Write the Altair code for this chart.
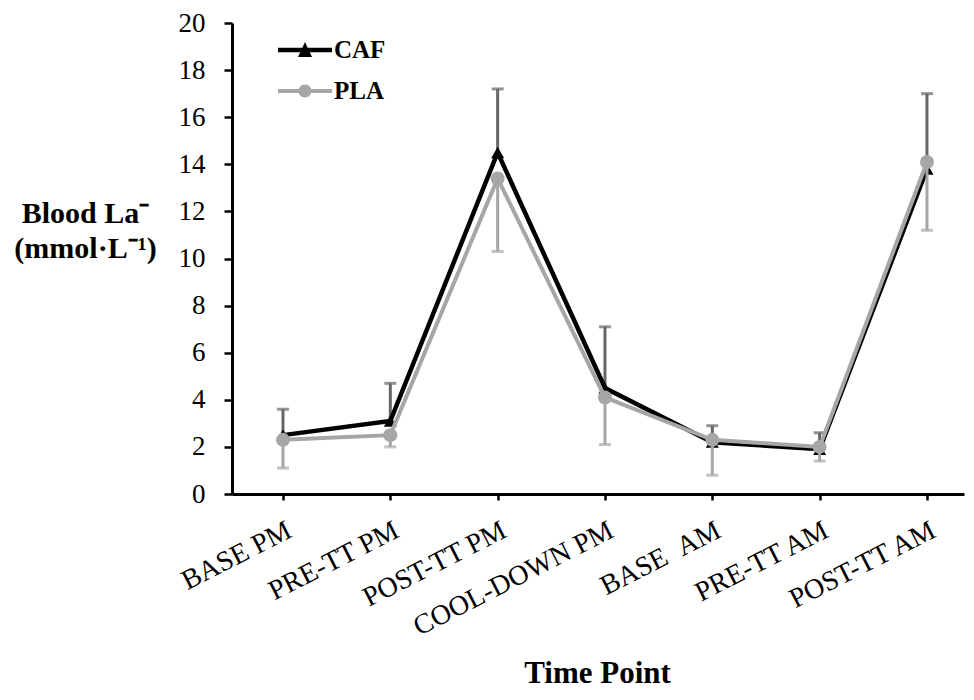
import json
import altair as alt
import pandas as pd

# ---- data ----
time_points = ["BASE PM", "PRE-TT PM", "POST-TT PM", "COOL-DOWN PM",
               "BASE \u00a0AM", "PRE-TT AM", "POST-TT AM"]
caf_mean = [2.5, 3.1, 14.5, 4.5, 2.2, 1.9, 13.8]
caf_sd = [1.1, 1.6, 2.7, 2.6, 0.7, 0.7, 3.2]
pla_mean = [2.3, 2.5, 13.4, 4.1, 2.3, 2.0, 14.1]
pla_sd = [1.2, 0.5, 3.1, 2.0, 1.5, 0.6, 2.9]
groups = ["CAF", "PLA"]
y_ticks = list(range(0, 21, 2))

rows = []
for i, t in enumerate(time_points):
    rows.append(dict(idx=i, label=t, group="CAF", mean=caf_mean[i], sd=caf_sd[i],
                     bar_end=caf_mean[i] + caf_sd[i]))
    rows.append(dict(idx=i, label=t, group="PLA", mean=pla_mean[i], sd=pla_sd[i],
                     bar_end=pla_mean[i] - pla_sd[i]))
df = pd.DataFrame(rows)

FONT = "Liberation Serif"
CAF_COLOR = "#000000"
CAF_ERR = "#666666"
PLA_COLOR = "#a6a6a6"

label_expr = json.dumps(time_points, ensure_ascii=False) + "[datum.value]"

x_enc = alt.X(
    "idx:Q",
    scale=alt.Scale(domain=[-0.475, 6.345], nice=False, zero=False),
    axis=alt.Axis(
        values=list(range(len(time_points))),
        labelExpr=label_expr,
        labelAngle=-27, labelAlign="right", labelBaseline="top",
        labelPadding=16, labelFont=FONT, labelFontSize=28, labelColor="black",
        labelOverlap=False, labelFlush=False, labelBound=False, labelLimit=0,
        grid=False, domainColor="black", domainWidth=3,
        tickColor="black", tickWidth=2.5, tickSize=6,
        title="Time Point", titleFont=FONT, titleFontSize=31,
        titleFontWeight="bold", titleColor="black",
        titleX=365, titleY=188, titleAlign="center", titleBaseline="alphabetic",
    ),
)
y_enc_kwargs = dict(
    scale=alt.Scale(domain=[0, 20], nice=False),
    axis=alt.Axis(
        values=y_ticks, grid=False,
        domainColor="black", domainWidth=3,
        tickColor="black", tickWidth=2.5, tickSize=8,
        labelFont=FONT, labelFontSize=27, labelColor="black", labelPadding=19,
        title=["Blood La\u207b", "(mmol\u00b7L\u207b\u00b9)"],
        titleFont=FONT, titleFontSize=30, titleFontWeight="bold", titleColor="black",
        titleAngle=0, titleAlign="center", titleBaseline="middle",
        titleX=-147, titleY=190, titleLineHeight=35,
    ),
)

base = alt.Chart(df)
caf = base.transform_filter(alt.datum.group == "CAF")
pla = base.transform_filter(alt.datum.group == "PLA")

caf_bar = caf.mark_rule(color=CAF_ERR, strokeWidth=3).encode(
    x=x_enc, y=alt.Y("mean:Q", **y_enc_kwargs), y2="bar_end:Q")
caf_cap = caf.mark_tick(color=CAF_ERR, orient="horizontal", size=12, thickness=3).encode(
    x=x_enc, y=alt.Y("bar_end:Q", **y_enc_kwargs))
caf_line = caf.mark_line(color=CAF_COLOR, strokeWidth=4.5).encode(
    x=x_enc, y=alt.Y("mean:Q", **y_enc_kwargs))
caf_pts = caf.mark_point(shape="triangle-up", filled=True, color=CAF_COLOR, size=170, opacity=1).encode(
    x=x_enc, y=alt.Y("mean:Q", **y_enc_kwargs))

pla_bar = pla.mark_rule(color=PLA_COLOR, strokeWidth=3).encode(
    x=x_enc, y=alt.Y("mean:Q", **y_enc_kwargs), y2="bar_end:Q")
pla_cap = pla.mark_tick(color=PLA_COLOR, orient="horizontal", size=12, thickness=3).encode(
    x=x_enc, y=alt.Y("bar_end:Q", **y_enc_kwargs))
pla_line = pla.mark_line(color=PLA_COLOR, strokeWidth=4).encode(
    x=x_enc, y=alt.Y("mean:Q", **y_enc_kwargs))
pla_pts = pla.mark_point(shape="circle", filled=True, color=PLA_COLOR, size=196, opacity=1).encode(
    x=x_enc, y=alt.Y("mean:Q", **y_enc_kwargs))

# legend glyphs: line segment + marker (unit = 8 px with symbolSize 256)
caf_glyph = ("M-3.375,-0.28L3.375,-0.28L3.375,0.28L-3.375,0.28Z "
             "M-0.875,0.875L0,-1L0.875,0.875Z")
pla_glyph = ("M-3.375,-0.25L3.375,-0.25L3.375,0.25L-3.375,0.25Z "
             "M-0.8125,0A0.8125,0.8125 0 1,1 0.8125,0A0.8125,0.8125 0 1,1 -0.8125,0Z")

legend_spec = alt.Legend(
    orient="none", legendX=60.5, legendY=14.5, title=None, padding=0,
    labelFont=FONT, labelFontSize=25, labelFontWeight="bold", labelColor="black",
    symbolSize=256, symbolOpacity=1, symbolStrokeWidth=0,
    labelOffset=16.5, rowPadding=15,
)
legend_layer = base.mark_point(filled=True, opacity=0, size=10).encode(
    x=x_enc, y=alt.Y("mean:Q", **y_enc_kwargs),
    shape=alt.Shape("group:N", scale=alt.Scale(domain=groups, range=[caf_glyph, pla_glyph]),
                    legend=legend_spec),
    color=alt.Color("group:N", scale=alt.Scale(domain=groups, range=[CAF_COLOR, PLA_COLOR]),
                    legend=legend_spec),
)

chart = alt.layer(
    caf_bar, caf_cap, caf_line, caf_pts,
    pla_bar, pla_cap, pla_line, pla_pts,
    legend_layer,
).properties(
    width=732, height=471,
    autosize=alt.AutoSizeParams(type="none"),
    padding={"left": 224, "top": 15, "right": 2, "bottom": 197},
    background="white",
).configure_view(stroke=None)

chart.save("out.html", embed_options={"renderer": "svg", "actions": False})
